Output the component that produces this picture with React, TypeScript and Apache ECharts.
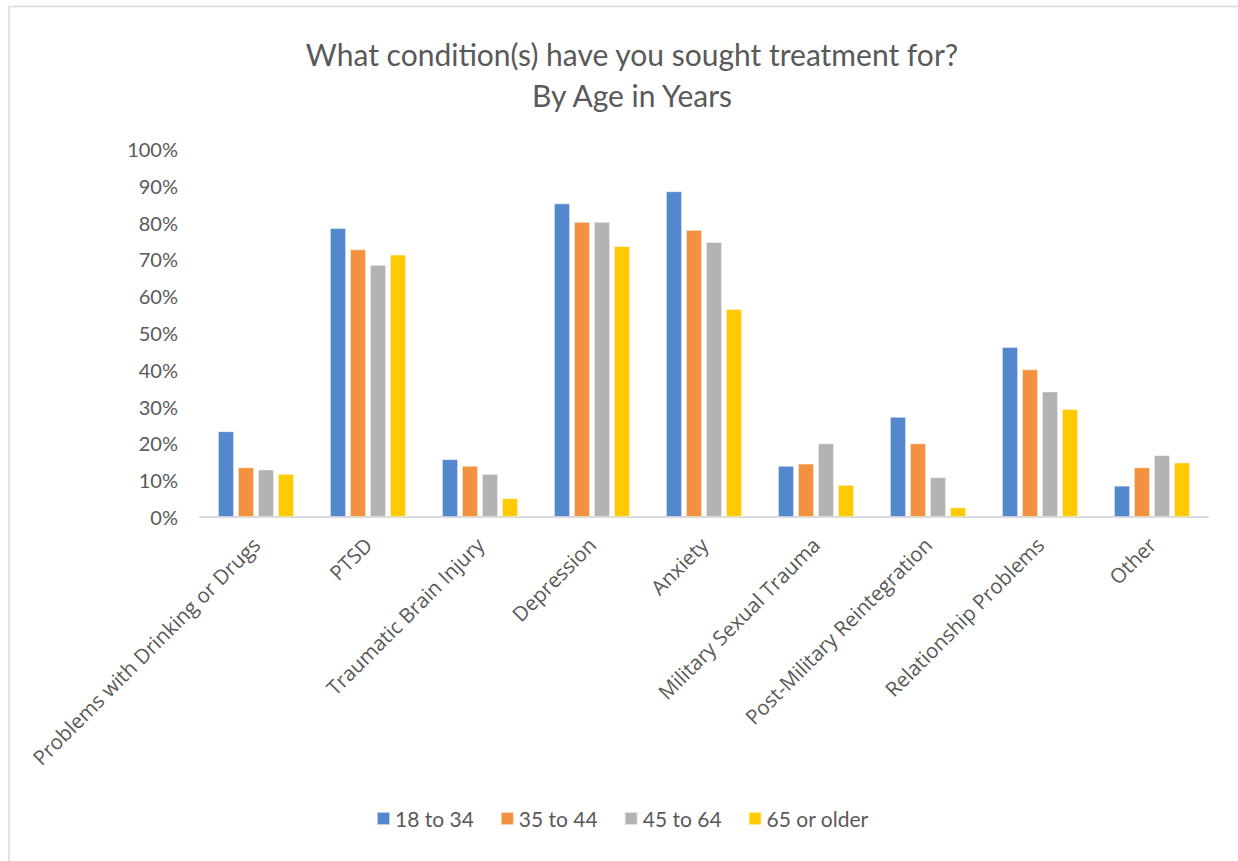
import React, { useEffect, useRef } from "react";
import * as echarts from "echarts";

const categories = [
  "Problems with Drinking or Drugs",
  "PTSD",
  "Traumatic Brain Injury",
  "Depression",
  "Anxiety",
  "Military Sexual Trauma",
  "Post-Military Reintegration",
  "Relationship Problems",
  "Other",
];
const seriesNames = ["18 to 34", "35 to 44", "45 to 64", "65 or older"];
const age18to34 = [23.3, 78.5, 15.7, 85.2, 88.5, 13.9, 27.2, 46.2, 8.5];
const age35to44 = [13.5, 72.7, 13.9, 80.2, 78.0, 14.5, 20.0, 40.1, 13.5];
const age45to64 = [12.9, 68.5, 11.7, 80.2, 74.7, 20.0, 10.8, 34.1, 16.8];
const age65plus = [11.7, 71.3, 5.1, 73.6, 56.5, 8.7, 2.6, 29.3, 14.8];
const colors = ["#5587CF", "#F2913F", "#B2B2B2", "#FFCA00"];
const titleLines = ["What condition(s) have you sought treatment for?", "By Age in Years"];

export default function App() {
  const ref = useRef<HTMLDivElement>(null);
  useEffect(() => {
    if (!ref.current) return;
    const chart = echarts.init(ref.current, undefined, { renderer: "svg" });
    const data = [age18to34, age35to44, age45to64, age65plus];
    chart.setOption({
      animation: false,
      backgroundColor: "#ffffff",
      title: {
        text: titleLines.join("\n"),
        left: 627,
        textAlign: "center",
        top: 28,
        textStyle: {
          fontFamily: "Lato",
          fontSize: 30,
          fontWeight: "normal",
          color: "#595959",
          lineHeight: 41,
        },
      },
      graphic: [
        {
          type: "rect",
          shape: { x: 9, y: 6.5, width: 1260, height: 900 },
          style: { fill: "none", stroke: "#d9d9d9", lineWidth: 1.5 },
          silent: true,
        },
      ],
      legend: {
        data: seriesNames,
        left: 371,
        top: 803,
        itemWidth: 13,
        itemHeight: 13,
        itemGap: 26,
        icon: "rect",
        textStyle: { fontFamily: "Lato", fontSize: 21, color: "#595959" },
      },
      grid: { left: 200, right: 30, top: 149, bottom: 344, containLabel: false },
      xAxis: {
        type: "category",
        data: categories,
        axisLine: { lineStyle: { color: "#d9d9d9", width: 2 } },
        axisTick: { show: false },
        axisLabel: {
          interval: 0,
          rotate: 45,
          margin: 24,
          fontFamily: "Open Sans",
          fontSize: 20.5,
          color: "#595959",
        },
      },
      yAxis: {
        type: "value",
        min: 0,
        max: 100,
        interval: 10,
        splitLine: { show: false },
        axisLine: { show: false },
        axisTick: { show: false },
        axisLabel: {
          formatter: "{value}%",
          margin: 22,
          fontFamily: "Lato",
          fontSize: 20,
          color: "#595959",
        },
      },
      series: seriesNames.map((name, i) => ({
        name,
        type: "bar",
        data: data[i],
        barWidth: 16,
        barGap: "25%",
        itemStyle: { color: colors[i], borderColor: "rgba(255,255,255,0.6)", borderWidth: 0.8 },
      })),
    });
    return () => chart.dispose();
  }, []);
  return (
    <div
      ref={ref}
      style={{ position: "fixed", left: 0, top: 0, width: 1238, height: 861 }}
    />
  );
}
